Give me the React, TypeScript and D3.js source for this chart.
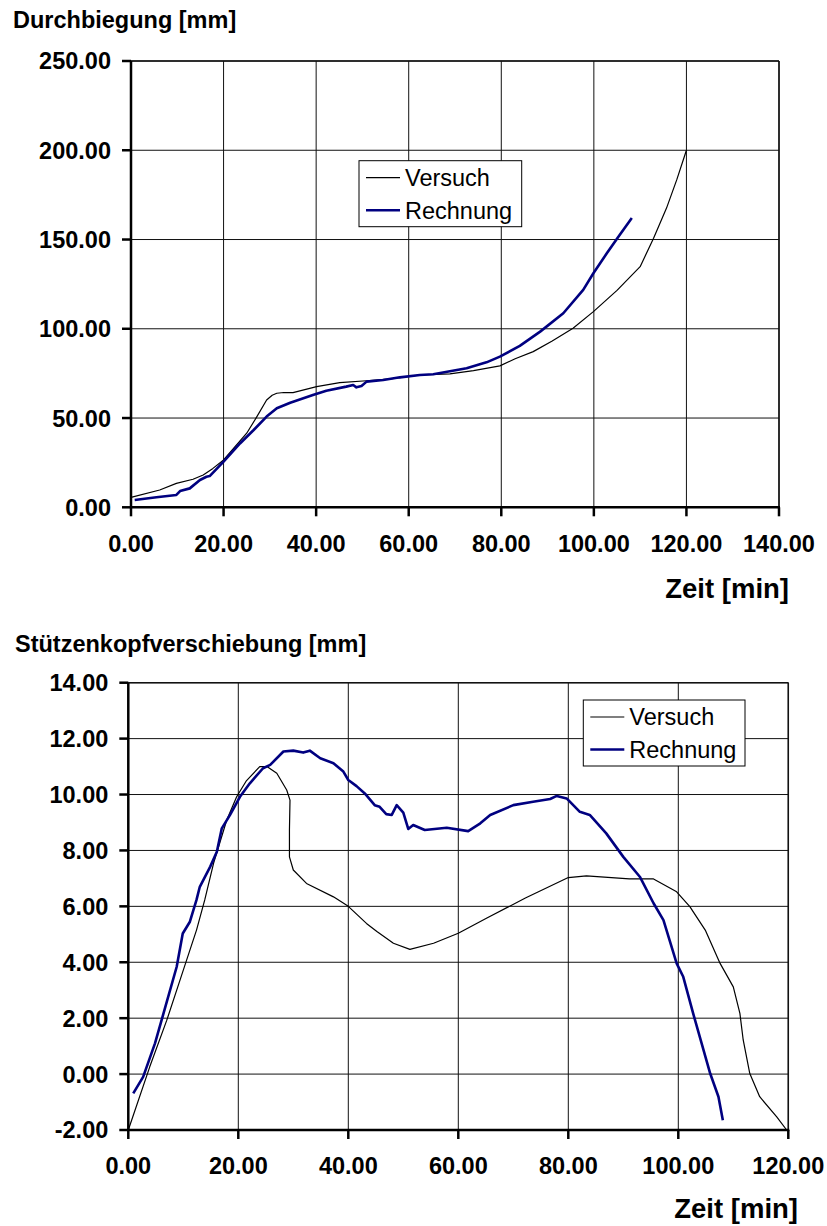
import React from "react";
import * as d3 from "d3";

// ---- Chart 1: Durchbiegung ----
const topXTicks = [0, 20, 40, 60, 80, 100, 120, 140];
const topYTicks = [0, 50, 100, 150, 200, 250];
const topVersuchT = [0, 6.2, 9.8, 13.4, 15.6, 17.7, 20, 25, 27.2, 29.3, 30.5, 31.5, 33, 35, 40.1, 45.1, 50.9, 56, 62.4, 68.9, 74, 79.7, 83, 86.9, 91, 95.5, 99.9, 105, 110, 112.9, 115.7, 117.9, 120];
const topVersuchV = [5.6, 9.7, 13.4, 15.7, 18.1, 21.8, 26.5, 41.5, 50.8, 60.1, 62.8, 63.9, 64.3, 64.2, 67.6, 69.8, 70.9, 71.9, 74.1, 74.7, 76.6, 79.2, 83.2, 87.2, 93.2, 100.3, 109.6, 121.5, 134.8, 150.7, 167.6, 183.4, 200];
const topRechT = [0.8, 5.5, 9.8, 10.6, 12.7, 14.9, 16.3, 17, 20, 23.6, 26.5, 29.3, 31.5, 34.4, 39.3, 42.2, 46.5, 48, 48.7, 49.8, 50.9, 54.5, 58.1, 62.4, 65.3, 72.5, 76.8, 79.7, 84, 88.4, 93.4, 97.7, 99.9, 102.8, 105.3, 108.2];
const topRechV = [4.1, 5.6, 6.9, 9.1, 10.6, 15.3, 17.1, 17.5, 25.6, 35.9, 43.3, 50.8, 55.5, 58.6, 62.9, 65.3, 67.6, 68.5, 67.2, 68, 70.4, 71.3, 72.8, 74.1, 74.5, 77.9, 81.2, 84.4, 90.4, 98.4, 108.7, 121.8, 131.1, 142.3, 151.6, 162];

// ---- Chart 2: Stützenkopfverschiebung ----
const botXTicks = [0, 20, 40, 60, 80, 100, 120];
const botYTicks = [-2, 0, 2, 4, 6, 8, 10, 12, 14];
const botVersuchT = [0, 3.9, 7, 10, 12.4, 13.9, 15.5, 17.9, 19.7, 21.5, 23.9, 25.2, 27, 28.8, 29.4, 29.3, 29.3, 30, 32.4, 37.3, 40, 43.3, 45.2, 48.2, 51.2, 55.5, 60, 65.2, 72.2, 80, 83.3, 91.1, 95.5, 99.7, 102.1, 104.9, 107.6, 110, 111.2, 111.8, 113, 114.8, 117.9, 119.7];
const botVersuchV = [-2, 0.26, 1.93, 3.72, 5.15, 6.23, 7.54, 9.09, 9.92, 10.5, 11.0, 11.0, 10.76, 10.16, 9.8, 8.73, 7.77, 7.3, 6.82, 6.34, 6.0, 5.39, 5.1, 4.68, 4.46, 4.68, 5.04, 5.58, 6.3, 7.03, 7.09, 6.98, 6.98, 6.52, 5.99, 5.15, 3.96, 3.12, 2.17, 1.22, 0.02, -0.81, -1.53, -2];
const botRechT = [0.9, 2.7, 4.85, 6.4, 8.8, 9.9, 11.2, 12.4, 13, 14.9, 16.1, 17, 18.5, 20.3, 22.1, 24.5, 25.8, 28.2, 30, 31.8, 33, 34.9, 37.3, 39.1, 40, 41.5, 43, 44.8, 45.7, 46.9, 47.9, 48.8, 50, 50.9, 51.8, 53.9, 57.9, 61.8, 64, 65.8, 70, 73.6, 76.7, 77.9, 79.7, 82.1, 83.9, 86.9, 90, 93, 95.5, 97.3, 99.7, 100.9, 102.7, 105.8, 107.3, 108.1];
const botRechV = [-0.69, -0.1, 1.1, 2.17, 3.84, 5.03, 5.45, 6.23, 6.7, 7.42, 7.95, 8.79, 9.27, 9.92, 10.4, 10.94, 11.06, 11.54, 11.57, 11.5, 11.57, 11.3, 11.12, 10.82, 10.52, 10.3, 10.04, 9.62, 9.56, 9.3, 9.27, 9.62, 9.35, 8.77, 8.91, 8.73, 8.81, 8.69, 8.97, 9.27, 9.62, 9.74, 9.84, 9.95, 9.86, 9.38, 9.27, 8.61, 7.77, 7.06, 6.11, 5.51, 3.96, 3.48, 2.17, 0.02, -0.81, -1.65];

const seriesNames = ["Versuch", "Rechnung"];

const FONT = "'Liberation Sans', Arial, sans-serif";
const NAVY = "#000080";

type ChartProps = {
  x0: number; x1: number; y0: number; y1: number;
  xDomain: [number, number]; yDomain: [number, number];
  xTicks: number[]; yTicks: number[];
  vT: number[]; vV: number[]; rT: number[]; rV: number[];
  title: string; titleX: number; titleY: number;
  zeitX: number; zeitY: number;
  legend: { x: number; y: number; w: number; h: number };
  xLabelY: number;
};

function Chart(p: ChartProps) {
  const x = d3.scaleLinear().domain(p.xDomain).range([p.x0, p.x1]);
  const y = d3.scaleLinear().domain(p.yDomain).range([p.y1, p.y0]);
  const line = d3.line<[number, number]>().x(d => x(d[0])).y(d => y(d[1]));
  const vPts = p.vT.map((t, i) => [t, p.vV[i]] as [number, number]);
  const rPts = p.rT.map((t, i) => [t, p.rV[i]] as [number, number]);
  const L = p.legend;
  return (
    <g>
      <text x={p.titleX} y={p.titleY} fontFamily={FONT} fontWeight="bold" fontSize={23.5}>{p.title}</text>
      {/* grid */}
      {p.xTicks.map(t => (
        <line key={"gx" + t} x1={x(t)} x2={x(t)} y1={p.y0} y2={p.y1} stroke="#111" strokeWidth={1} />
      ))}
      {p.yTicks.map(t => (
        <line key={"gy" + t} x1={p.x0} x2={p.x1} y1={y(t)} y2={y(t)} stroke="#111" strokeWidth={1} />
      ))}
      {/* border */}
      <line x1={p.x0} x2={p.x1} y1={p.y0} y2={p.y0} stroke="#111" strokeWidth={1.5} />
      <line x1={p.x1} x2={p.x1} y1={p.y0} y2={p.y1} stroke="#111" strokeWidth={1.5} />
      {/* axes */}
      <line x1={p.x0} x2={p.x0} y1={p.y0} y2={p.y1 + 1} stroke="#000" strokeWidth={2.5} />
      <line x1={p.x0 - 1} x2={p.x1 + 1} y1={p.y1} y2={p.y1} stroke="#000" strokeWidth={2.5} />
      {p.yTicks.map(t => (
        <g key={"yt" + t}>
          <line x1={p.x0 - 9} x2={p.x0} y1={y(t)} y2={y(t)} stroke="#000" strokeWidth={2.5} />
          <text x={p.x0 - 20} y={y(t)} dy="0.36em" textAnchor="end" fontFamily={FONT} fontWeight="bold" fontSize={23.5}>{t.toFixed(2)}</text>
        </g>
      ))}
      {p.xTicks.map(t => (
        <g key={"xt" + t}>
          <line x1={x(t)} x2={x(t)} y1={p.y1} y2={p.y1 + 9} stroke="#000" strokeWidth={2.5} />
          <text x={x(t)} y={p.xLabelY} textAnchor="middle" fontFamily={FONT} fontWeight="bold" fontSize={23.5}>{t.toFixed(2)}</text>
        </g>
      ))}
      {/* series */}
      <path d={line(vPts) || ""} fill="none" stroke="#000" strokeWidth={1.2} strokeLinejoin="round" />
      <path d={line(rPts) || ""} fill="none" stroke={NAVY} strokeWidth={2.6} strokeLinejoin="round" />
      {/* legend */}
      <rect x={L.x} y={L.y} width={L.w} height={L.h} fill="#fff" stroke="#000" strokeWidth={1} />
      <line x1={L.x + 7} x2={L.x + 41} y1={L.y + 17} y2={L.y + 17} stroke="#000" strokeWidth={1.2} />
      <line x1={L.x + 7} x2={L.x + 41} y1={L.y + 49.5} y2={L.y + 49.5} stroke={NAVY} strokeWidth={2.6} />
      <text x={L.x + 46} y={L.y + 25} fontFamily={FONT} fontSize={23.5}>{seriesNames[0]}</text>
      <text x={L.x + 46} y={L.y + 58} fontFamily={FONT} fontSize={23.5}>{seriesNames[1]}</text>
      <text x={p.zeitX} y={p.zeitY} textAnchor="end" fontFamily={FONT} fontWeight="bold" fontSize={27.5}>Zeit [min]</text>
    </g>
  );
}

export default function App() {
  return (
    <svg width={827} height={1226} style={{ position: "absolute", left: 0, top: 0, background: "#fff" }}>
      <rect x={0} y={0} width={827} height={1226} fill="#fff" />
      <Chart
        x0={131} x1={779} y0={61} y1={507.3}
        xDomain={[0, 140]} yDomain={[0, 250]}
        xTicks={topXTicks} yTicks={topYTicks}
        vT={topVersuchT} vV={topVersuchV} rT={topRechT} rV={topRechV}
        title="Durchbiegung [mm]" titleX={13} titleY={28}
        zeitX={789} zeitY={598}
        legend={{ x: 359, y: 160.7, w: 162.7, h: 66 }}
        xLabelY={552}
      />
      <Chart
        x0={128.3} x1={788.3} y0={682.7} y1={1130}
        xDomain={[0, 120]} yDomain={[-2, 14]}
        xTicks={botXTicks} yTicks={botYTicks}
        vT={botVersuchT} vV={botVersuchV} rT={botRechT} rV={botRechV}
        title="Stützenkopfverschiebung [mm]" titleX={15} titleY={652}
        zeitX={798} zeitY={1218}
        legend={{ x: 583.3, y: 700, w: 161.7, h: 66 }}
        xLabelY={1174}
      />
    </svg>
  );
}
